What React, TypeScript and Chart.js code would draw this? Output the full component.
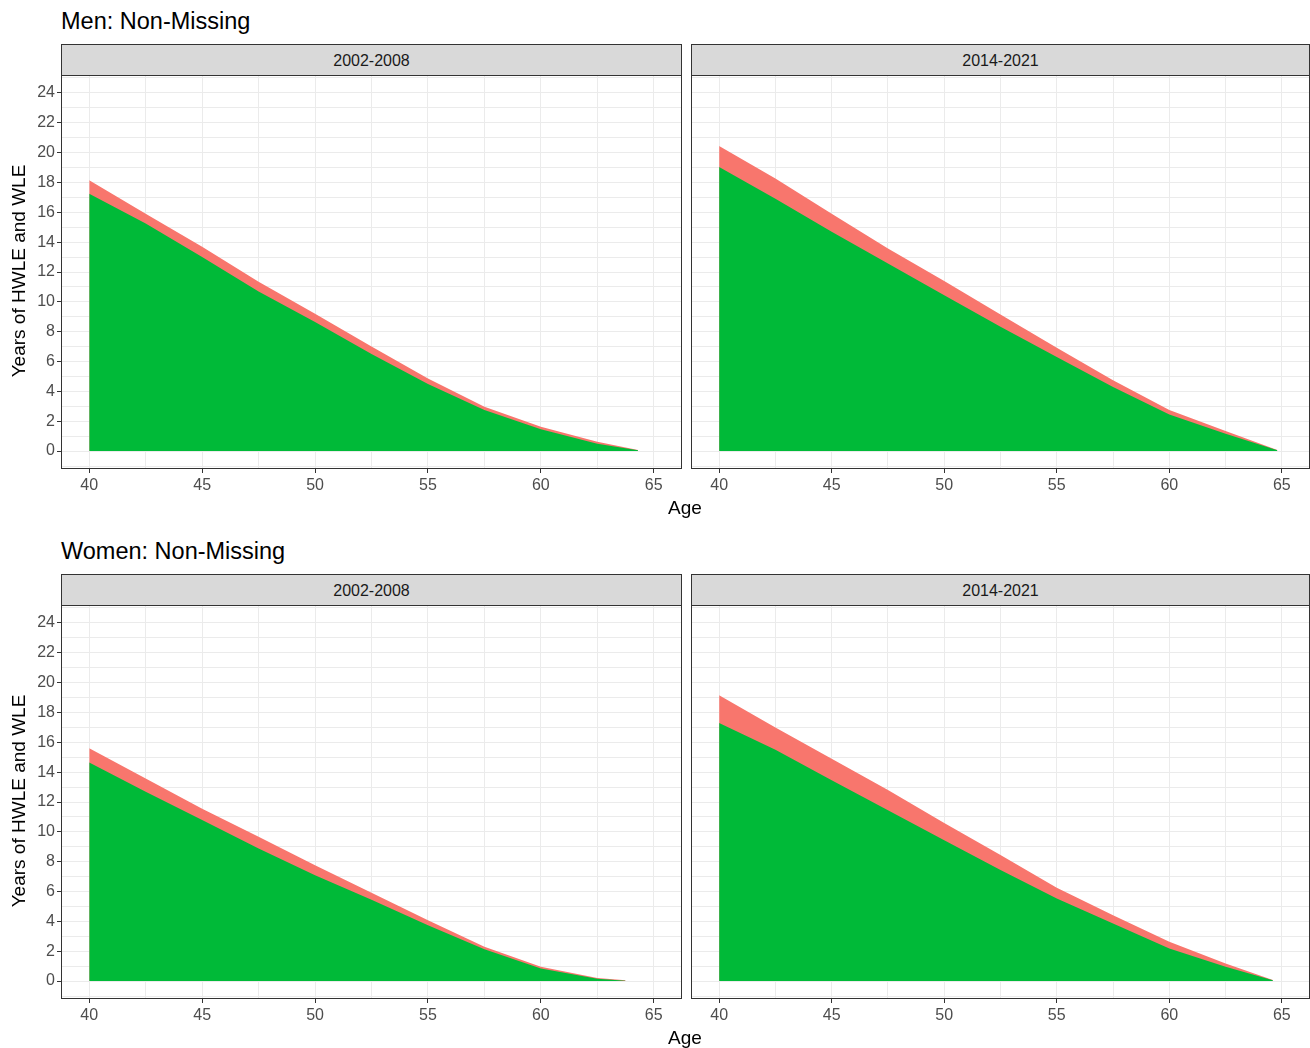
import React, { useEffect, useRef } from "react";
import { Chart, registerables } from "chart.js";

Chart.register(...registerables);

// ---- Data ----
const xTicks = [40, 42.5, 45, 47.5, 50, 52.5, 55, 57.5, 60, 62.5, 65];
const xLabelTicks = [40, 45, 50, 55, 60, 65];
const yTicks = [-1, 0, 1, 2, 3, 4, 5, 6, 7, 8, 9, 10, 11, 12, 13, 14, 15, 16, 17, 18, 19, 20, 21, 22, 23, 24, 25];
const yLabelTicks = [0, 2, 4, 6, 8, 10, 12, 14, 16, 18, 20, 22, 24];

const menAges2002 = [40, 42.5, 45, 47.5, 50, 52.5, 55, 57.5, 60, 62.5, 64.3];
const menHwle2002 = [17.25, 15.25, 13.0, 10.7, 8.65, 6.5, 4.5, 2.75, 1.47, 0.5, 0.05];
const menWle2002 = [18.15, 15.9, 13.7, 11.35, 9.2, 7.0, 4.87, 2.97, 1.63, 0.62, 0.08];

const menAges2014 = [40, 42.5, 45, 47.5, 50, 52.5, 55, 57.5, 60, 62.5, 64.8];
const menHwle2014 = [19.04, 16.9, 14.7, 12.57, 10.45, 8.33, 6.3, 4.3, 2.45, 1.16, 0.05];
const menWle2014 = [20.45, 18.26, 15.9, 13.57, 11.4, 9.15, 6.92, 4.75, 2.75, 1.34, 0.08];

const womenAges2002 = [40, 42.5, 45, 47.5, 50, 52.5, 55, 57.5, 60, 62.5, 63.75];
const womenHwle2002 = [14.65, 12.68, 10.8, 8.88, 7.1, 5.45, 3.75, 2.14, 0.85, 0.15, 0.02];
const womenWle2002 = [15.6, 13.57, 11.55, 9.67, 7.77, 5.92, 4.08, 2.3, 0.96, 0.2, 0.05];

const womenAges2014 = [40, 42.5, 45, 47.5, 50, 52.5, 55, 57.5, 60, 62.5, 64.6];
const womenHwle2014 = [17.3, 15.5, 13.46, 11.45, 9.44, 7.45, 5.54, 3.86, 2.19, 0.96, 0.05];
const womenWle2014 = [19.15, 17.0, 14.9, 12.8, 10.6, 8.45, 6.25, 4.42, 2.63, 1.18, 0.08];

const periodLabels = ["2002-2008", "2014-2021"];
const rowTitles = ["Men: Non-Missing", "Women: Non-Missing"];
const xTitle = "Age";
const yTitle = "Years of HWLE and WLE";

const GREEN = "#00BA38";
const RED = "#F8766D";
const FONT = "'Liberation Sans', Arial, sans-serif";

const borderPlugin = {
  id: "panelBorder",
  afterDatasetsDraw(chart: any) {
    const { ctx, chartArea } = chart;
    ctx.save();
    ctx.strokeStyle = "#333333";
    ctx.lineWidth = 1;
    ctx.strokeRect(
      Math.round(chartArea.left) + 0.5,
      Math.round(chartArea.top) + 0.5,
      Math.round(chartArea.right - chartArea.left) - 1,
      Math.round(chartArea.bottom - chartArea.top) - 1
    );
    ctx.restore();
  },
};

type PanelProps = {
  left: number;
  top: number;
  width: number;
  height: number;
  showY: boolean;
  ages: number[];
  hwle: number[];
  wle: number[];
};

function Panel({ left, top, width, height, showY, ages, hwle, wle }: PanelProps) {
  const ref = useRef<HTMLCanvasElement>(null);
  useEffect(() => {
    if (!ref.current) return;
    const chart = new Chart(ref.current, {
      type: "line",
      data: {
        datasets: [
          {
            label: "HWLE",
            data: ages.map((a, i) => ({ x: a, y: hwle[i] })),
            fill: "origin",
            backgroundColor: GREEN,
            borderColor: GREEN,
            borderWidth: 0,
            pointRadius: 0,
            tension: 0,
          },
          {
            label: "WLE",
            data: ages.map((a, i) => ({ x: a, y: wle[i] })),
            fill: "origin",
            backgroundColor: RED,
            borderColor: RED,
            borderWidth: 0,
            pointRadius: 0,
            tension: 0,
          },
        ],
      },
      options: {
        responsive: false,
        animation: false,
        layout: { padding: 0 },
        plugins: {
          legend: { display: false },
          tooltip: { enabled: false },
          title: { display: false },
        },
        scales: {
          x: {
            type: "linear",
            min: 38.75,
            max: 66.25,
            afterBuildTicks: (s: any) => {
              s.ticks = xTicks.map((v) => ({ value: v }));
            },
            afterFit: (s: any) => {
              s.height = 30;
              s.paddingLeft = 0;
              s.paddingRight = 0;
              s.paddingTop = 0;
              s.paddingBottom = 0;
            },
            border: { display: false },
            grid: {
              color: "#EBEBEB",
              lineWidth: 1,
              tickLength: 4,
              tickColor: (c: any) =>
                c.tick && xLabelTicks.includes(c.tick.value) ? "#333333" : "rgba(0,0,0,0)",
            },
            ticks: {
              autoSkip: false,
              maxRotation: 0,
              padding: 3,
              color: "#4D4D4D",
              font: { family: FONT, size: 16 },
              callback: (v: any) => (xLabelTicks.includes(Number(v)) ? String(v) : ""),
            },
          },
          y: {
            type: "linear",
            min: -1.2,
            max: 25.2,
            afterBuildTicks: (s: any) => {
              s.ticks = yTicks.map((v) => ({ value: v }));
            },
            afterFit: (s: any) => {
              s.width = showY ? 61 : 0;
              s.paddingLeft = 0;
              s.paddingRight = 0;
              s.paddingTop = 0;
              s.paddingBottom = 0;
            },
            border: { display: false },
            grid: {
              color: "#EBEBEB",
              lineWidth: 1,
              drawTicks: showY,
              tickLength: 4,
              tickColor: (c: any) =>
                c.tick && yLabelTicks.includes(c.tick.value) ? "#333333" : "rgba(0,0,0,0)",
            },
            ticks: {
              display: showY,
              autoSkip: false,
              padding: 2,
              color: "#4D4D4D",
              font: { family: FONT, size: 16 },
              callback: (v: any) => (yLabelTicks.includes(Number(v)) ? String(v) : ""),
            },
          },
        },
      },
      plugins: [borderPlugin],
    } as any);
    return () => chart.destroy();
  }, []);
  return (
    <canvas
      ref={ref}
      width={width}
      height={height}
      style={{ position: "absolute", left, top, width, height }}
    />
  );
}

function Strip({ left, top, width, label }: { left: number; top: number; width: number; label: string }) {
  return (
    <div
      style={{
        position: "absolute",
        left,
        top,
        width,
        height: 32,
        boxSizing: "border-box",
        background: "#D9D9D9",
        border: "1px solid #333333",
        color: "#1A1A1A",
        fontFamily: FONT,
        fontSize: 16,
        lineHeight: "31px",
        textAlign: "center",
      }}
    >
      {label}
    </div>
  );
}

const rows = [
  {
    offset: 0,
    panels: [
      { ages: menAges2002, hwle: menHwle2002, wle: menWle2002 },
      { ages: menAges2014, hwle: menHwle2014, wle: menWle2014 },
    ],
  },
  {
    offset: 530,
    panels: [
      { ages: womenAges2002, hwle: womenHwle2002, wle: womenWle2002 },
      { ages: womenAges2014, hwle: womenHwle2014, wle: womenWle2014 },
    ],
  },
];

export default function App() {
  return (
    <div
      style={{
        position: "absolute",
        left: 0,
        top: 0,
        width: 1310,
        height: 1048,
        background: "#FFFFFF",
        overflow: "hidden",
      }}
    >
      {rows.map((row, r) => (
        <React.Fragment key={r}>
          <div
            style={{
              position: "absolute",
              left: 61,
              top: row.offset + 7,
              fontFamily: FONT,
              fontSize: 23.5,
              lineHeight: "28px",
              color: "#000000",
              whiteSpace: "nowrap",
            }}
          >
            {rowTitles[r]}
          </div>
          <Strip left={61} top={row.offset + 44} width={621} label={periodLabels[0]} />
          <Strip left={691} top={row.offset + 44} width={619} label={periodLabels[1]} />
          <Panel
            left={0}
            top={row.offset + 75}
            width={682}
            height={424}
            showY={true}
            ages={row.panels[0].ages}
            hwle={row.panels[0].hwle}
            wle={row.panels[0].wle}
          />
          <Panel
            left={691}
            top={row.offset + 75}
            width={619}
            height={424}
            showY={false}
            ages={row.panels[1].ages}
            hwle={row.panels[1].hwle}
            wle={row.panels[1].wle}
          />
          <div
            style={{
              position: "absolute",
              left: 585,
              width: 200,
              top: row.offset + 496,
              textAlign: "center",
              fontFamily: FONT,
              fontSize: 19,
              lineHeight: "24px",
              color: "#000000",
            }}
          >
            {xTitle}
          </div>
          <div
            style={{
              position: "absolute",
              left: 19 - 150,
              width: 300,
              top: row.offset + 271 - 12,
              textAlign: "center",
              fontFamily: FONT,
              fontSize: 19,
              lineHeight: "24px",
              color: "#000000",
              transform: "rotate(-90deg)",
              whiteSpace: "nowrap",
            }}
          >
            {yTitle}
          </div>
        </React.Fragment>
      ))}
    </div>
  );
}
